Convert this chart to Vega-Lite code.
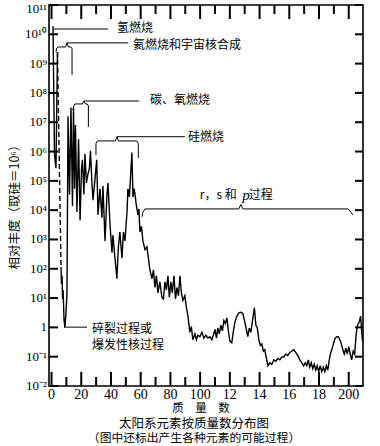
{
  "$schema": "https://vega.github.io/schema/vega-lite/v6.json",
  "width": 314,
  "height": 381,
  "autosize": {"type": "none"},
  "padding": {"left": 49, "top": 5, "right": 17, "bottom": 60},
  "background": "white",
  "config": {
    "view": {"stroke": "black", "strokeWidth": 1.6}
  },
  "title": {
    "text": "太阳系元素按质量数分布图",
    "subtitle": "（图中还标出产生各种元素的可能过程）",
    "orient": "bottom",
    "anchor": "middle",
    "dx": -12,
    "offset": 3,
    "font": "Noto Sans CJK SC",
    "fontSize": 12.5,
    "fontWeight": "normal",
    "color": "black",
    "subtitleFont": "Noto Sans CJK SC",
    "subtitleFontSize": 11.8,
    "subtitleColor": "black",
    "subtitlePadding": 3
  },
  "datasets": {
    "curve": [
      {"s":"s1","A":1.0,"v":1.9e10},{"s":"s1","A":2.0,"v":8.3e5},{"s":"s1","A":3.0,"v":2.7e5},{"s":"s1","A":4.0,"v":2.5e9},
      {"s":"s2","A":4.0,"v":2.5e9},{"s":"s2","A":6.4,"v":115},
      {"s":"s3","A":6.4,"v":115},{"s":"s3","A":6.7,"v":30},{"s":"s3","A":7.1,"v":58},{"s":"s3","A":7.4,"v":9.3},{"s":"s3","A":7.8,"v":19},
      {"s":"s3","A":8.4,"v":1.9},{"s":"s3","A":9.0,"v":0.95},{"s":"s3","A":9.7,"v":3.0},{"s":"s3","A":10.4,"v":15},{"s":"s3","A":11.1,"v":1.6e7},
      {"s":"s3","A":12.1,"v":3.4e4},{"s":"s3","A":13.1,"v":3.2e7},{"s":"s3","A":14.1,"v":1.4e4},{"s":"s3","A":14.8,"v":3.2e7},{"s":"s3","A":15.5,"v":5.4e4},
      {"s":"s3","A":16.1,"v":8.1e6},{"s":"s3","A":17.1,"v":8.7e3},{"s":"s3","A":18.2,"v":2.6e6},{"s":"s3","A":19.2,"v":4.4e3},{"s":"s3","A":20.2,"v":2.7e5},
      {"s":"s3","A":20.8,"v":5.2e5},{"s":"s3","A":21.8,"v":3.4e4},{"s":"s3","A":22.5,"v":8.3e5},{"s":"s3","A":23.5,"v":8.5e4},{"s":"s3","A":24.5,"v":1.7e5},
      {"s":"s3","A":25.5,"v":2.7e5},{"s":"s3","A":26.2,"v":1.05e6},{"s":"s3","A":27.2,"v":8.5e4},{"s":"s3","A":27.9,"v":2.2e4},{"s":"s3","A":29.2,"v":1.07e5},
      {"s":"s3","A":30.4,"v":5.2e5},{"s":"s3","A":31.3,"v":6.9e3},{"s":"s3","A":32.6,"v":5.4e4},{"s":"s3","A":33.9,"v":5.5e3},{"s":"s3","A":34.6,"v":6.8e4},
      {"s":"s3","A":36.0,"v":890},{"s":"s3","A":37.3,"v":3.4e4},{"s":"s3","A":38.0,"v":8.5e4},{"s":"s3","A":39.3,"v":3.5e3},{"s":"s3","A":40.7,"v":355},
      {"s":"s3","A":41.3,"v":1400},{"s":"s3","A":42.7,"v":230},{"s":"s3","A":44.0,"v":46},{"s":"s3","A":45.0,"v":560},{"s":"s3","A":46.0,"v":1800},
      {"s":"s3","A":47.4,"v":230},{"s":"s3","A":48.4,"v":1800},{"s":"s3","A":49.4,"v":890},{"s":"s3","A":50.8,"v":8.7e3},{"s":"s3","A":51.4,"v":5.4e4},
      {"s":"s3","A":52.4,"v":2.8e4},{"s":"s3","A":54.1,"v":9.3e5},{"s":"s3","A":54.8,"v":2.8e4},{"s":"s3","A":55.5,"v":5.4e4},{"s":"s3","A":56.1,"v":3.8e4},
      {"s":"s3","A":57.1,"v":1.4e4},{"s":"s3","A":58.2,"v":6.9e3},{"s":"s3","A":58.8,"v":1.1e4},{"s":"s3","A":59.5,"v":1800},{"s":"s3","A":60.5,"v":2800},
      {"s":"s3","A":61.5,"v":890},{"s":"s3","A":62.9,"v":450},{"s":"s3","A":64.2,"v":560},{"s":"s3","A":65.2,"v":230},{"s":"s3","A":66.2,"v":91},
      {"s":"s3","A":67.6,"v":46},{"s":"s3","A":68.6,"v":91},{"s":"s3","A":69.6,"v":23},{"s":"s3","A":70.6,"v":58},{"s":"s3","A":71.6,"v":15},
      {"s":"s3","A":72.9,"v":36},{"s":"s3","A":74.3,"v":10.5},{"s":"s3","A":75.3,"v":9.3},{"s":"s3","A":76.3,"v":36},{"s":"s3","A":77.3,"v":19},
      {"s":"s3","A":78.3,"v":58},{"s":"s3","A":79.3,"v":10.5},{"s":"s3","A":80.3,"v":36},{"s":"s3","A":81.3,"v":15},{"s":"s3","A":82.4,"v":58},
      {"s":"s3","A":83.4,"v":9.3},{"s":"s3","A":84.4,"v":23},{"s":"s3","A":85.4,"v":12},{"s":"s3","A":86.4,"v":58},{"s":"s3","A":87.4,"v":15},
      {"s":"s3","A":88.4,"v":8.3},{"s":"s3","A":89.7,"v":12},{"s":"s3","A":90.8,"v":4.7},{"s":"s3","A":91.8,"v":2.4},{"s":"s3","A":93.1,"v":0.68},
      {"s":"s3","A":94.1,"v":1.07},{"s":"s3","A":95.1,"v":0.38},{"s":"s3","A":96.5,"v":0.6},{"s":"s3","A":97.5,"v":0.38},{"s":"s3","A":98.5,"v":0.54},
      {"s":"s3","A":99.8,"v":0.48},{"s":"s3","A":101.2,"v":0.68},{"s":"s3","A":102.5,"v":0.43},{"s":"s3","A":103.9,"v":0.54},{"s":"s3","A":105.2,"v":0.43},
      {"s":"s3","A":106.6,"v":0.48},{"s":"s3","A":107.9,"v":0.38},{"s":"s3","A":108.9,"v":0.54},{"s":"s3","A":110.0,"v":0.85},{"s":"s3","A":111.0,"v":0.43},
      {"s":"s3","A":111.9,"v":0.95},{"s":"s3","A":112.9,"v":0.6},{"s":"s3","A":114.0,"v":1.2},{"s":"s3","A":115.0,"v":0.76},{"s":"s3","A":116.0,"v":1.7},
      {"s":"s3","A":117.0,"v":1.35},{"s":"s3","A":118.0,"v":2.1},{"s":"s3","A":119.0,"v":0.76},{"s":"s3","A":120.0,"v":0.34},{"s":"s3","A":121.3,"v":0.30},
      {"s":"s3","A":122.4,"v":0.76},{"s":"s3","A":123.4,"v":1.5},{"s":"s3","A":124.7,"v":2.4},{"s":"s3","A":126.0,"v":3.1},{"s":"s3","A":127.4,"v":3.3},
      {"s":"s3","A":128.7,"v":3.0},{"s":"s3","A":130.1,"v":1.5},{"s":"s3","A":131.1,"v":0.85},{"s":"s3","A":132.1,"v":0.48},{"s":"s3","A":133.1,"v":0.95},
      {"s":"s3","A":134.1,"v":0.68},{"s":"s3","A":135.1,"v":1.5},{"s":"s3","A":136.5,"v":4.7},{"s":"s3","A":137.5,"v":1.2},{"s":"s3","A":138.5,"v":0.95},
      {"s":"s3","A":139.5,"v":0.38},{"s":"s3","A":140.5,"v":0.245},{"s":"s3","A":141.5,"v":0.275},{"s":"s3","A":142.5,"v":0.155},{"s":"s3","A":143.5,"v":0.174},
      {"s":"s3","A":144.6,"v":0.087},{"s":"s3","A":145.6,"v":0.049},{"s":"s3","A":146.9,"v":0.062},{"s":"s3","A":148.2,"v":0.055},{"s":"s3","A":149.6,"v":0.078},
      {"s":"s3","A":150.9,"v":0.07},{"s":"s3","A":152.3,"v":0.087},{"s":"s3","A":153.6,"v":0.078},{"s":"s3","A":155.0,"v":0.098},{"s":"s3","A":156.3,"v":0.098},
      {"s":"s3","A":157.6,"v":0.123},{"s":"s3","A":159.0,"v":0.11},{"s":"s3","A":160.3,"v":0.138},{"s":"s3","A":161.7,"v":0.155},{"s":"s3","A":163.0,"v":0.174},
      {"s":"s3","A":164.4,"v":0.138},{"s":"s3","A":165.7,"v":0.11},{"s":"s3","A":167.1,"v":0.078},{"s":"s3","A":168.4,"v":0.062},{"s":"s3","A":169.7,"v":0.049},
      {"s":"s3","A":170.8,"v":0.062},{"s":"s3","A":171.8,"v":0.049},{"s":"s3","A":172.8,"v":0.078},{"s":"s3","A":173.8,"v":0.044},{"s":"s3","A":174.8,"v":0.062},
      {"s":"s3","A":175.8,"v":0.039},{"s":"s3","A":176.8,"v":0.055},{"s":"s3","A":177.8,"v":0.035},{"s":"s3","A":178.8,"v":0.049},{"s":"s3","A":179.8,"v":0.031},
      {"s":"s3","A":180.8,"v":0.049},{"s":"s3","A":181.8,"v":0.031},{"s":"s3","A":182.9,"v":0.044},{"s":"s3","A":183.9,"v":0.031},{"s":"s3","A":184.9,"v":0.049},
      {"s":"s3","A":185.9,"v":0.035},{"s":"s3","A":186.9,"v":0.078},{"s":"s3","A":187.9,"v":0.138},{"s":"s3","A":188.9,"v":0.195},{"s":"s3","A":189.9,"v":0.30},
      {"s":"s3","A":190.9,"v":0.43},{"s":"s3","A":191.9,"v":0.48},{"s":"s3","A":193.0,"v":0.48},{"s":"s3","A":194.0,"v":0.38},{"s":"s3","A":195.0,"v":0.275},
      {"s":"s3","A":196.0,"v":0.174},{"s":"s3","A":197.0,"v":0.123},{"s":"s3","A":198.0,"v":0.195},{"s":"s3","A":199.0,"v":0.123},{"s":"s3","A":200.0,"v":0.22},
      {"s":"s3","A":201.0,"v":0.123},{"s":"s3","A":202.0,"v":0.078},{"s":"s3","A":203.0,"v":0.155},{"s":"s3","A":204.0,"v":0.123},{"s":"s3","A":205.0,"v":0.6},
      {"s":"s3","A":206.0,"v":1.2},{"s":"s3","A":207.0,"v":1.5},{"s":"s3","A":208.0,"v":2.4},{"s":"s3","A":208.7,"v":0.76},{"s":"s3","A":209.3,"v":0.34}
    ],
    "guides": [
      {"g":"b1","i":1,"A":3.0,"v":2.5e9},{"g":"b1","i":2,"A":3.5,"v":3.4e9},{"g":"b1","i":3,"A":4.5,"v":3.7e9},{"g":"b1","i":4,"A":9.5,"v":3.7e9},{"g":"b1","i":5,"A":10.4,"v":5.1e9},
      {"g":"b1","i":6,"A":11.3,"v":3.7e9},{"g":"b1","i":7,"A":13.0,"v":3.7e9},{"g":"b1","i":8,"A":13.8,"v":3.2e9},{"g":"b1","i":9,"A":13.8,"v":4.1e8},
      {"g":"l1","i":1,"A":1.7,"v":1.52e10},{"g":"l1","i":2,"A":38.0,"v":1.52e10},
      {"g":"l2","i":1,"A":10.4,"v":5.1e9},{"g":"l2","i":2,"A":51.4,"v":5.1e9},
      {"g":"b2","i":1,"A":14.5,"v":2.6e7},{"g":"b2","i":2,"A":15.0,"v":3.6e7},{"g":"b2","i":3,"A":15.8,"v":4.2e7},{"g":"b2","i":4,"A":20.8,"v":4.2e7},{"g":"b2","i":5,"A":21.8,"v":5.3e7},
      {"g":"b2","i":6,"A":22.8,"v":4.2e7},{"g":"b2","i":7,"A":24.0,"v":4.2e7},{"g":"b2","i":8,"A":24.8,"v":3.6e7},{"g":"b2","i":9,"A":24.8,"v":6.9e6},
      {"g":"l3","i":1,"A":21.8,"v":5.3e7},{"g":"l3","i":2,"A":58.8,"v":5.3e7},
      {"g":"b3","i":1,"A":29.9,"v":7.6e5},{"g":"b3","i":2,"A":29.9,"v":1.9e6},{"g":"b3","i":3,"A":30.9,"v":2.3e6},{"g":"b3","i":4,"A":43.0,"v":2.3e6},{"g":"b3","i":5,"A":44.0,"v":3.2e6},
      {"g":"b3","i":6,"A":45.0,"v":2.3e6},{"g":"b3","i":7,"A":57.4,"v":2.3e6},{"g":"b3","i":8,"A":58.4,"v":1.9e6},{"g":"b3","i":9,"A":58.4,"v":6.0e5},
      {"g":"l4","i":1,"A":44.0,"v":3.2e6},{"g":"l4","i":2,"A":89.7,"v":3.2e6},
      {"g":"b4","i":1,"A":60.8,"v":5.9e3},{"g":"b4","i":2,"A":61.5,"v":8.5e3},{"g":"b4","i":3,"A":62.9,"v":1.1e4},{"g":"b4","i":4,"A":126.0,"v":1.1e4},{"g":"b4","i":5,"A":127.4,"v":1.56e4},
      {"g":"b4","i":6,"A":128.8,"v":1.1e4},{"g":"b4","i":7,"A":199.5,"v":1.1e4},{"g":"b4","i":8,"A":201.5,"v":8.5e3},{"g":"b4","i":9,"A":202.7,"v":6.9e3},
      {"g":"l5","i":1,"A":9.7,"v":1.02},{"g":"l5","i":2,"A":23.9,"v":1.02}
    ],
    "notes": [
      {"t":"氢燃烧","A":44.0,"v":1.66e10},
      {"t":"氦燃烧和宇宙核合成","A":54.8,"v":4.4e9},
      {"t":"碳、氧燃烧","A":66.2,"v":5.8e7},
      {"t":"硅燃烧","A":91.9,"v":3.2e6},
      {"t":"r，s 和","A":99.8,"v":3.3e4},
      {"t":"过程","A":132.8,"v":3.3e4},
      {"t":"碎裂过程或","A":27.2,"v":0.916},
      {"t":"爆发性核过程","A":27.2,"v":0.26}
    ],
    "italic": [
      {"t":"p","A":128.4,"v":3.3e4}
    ],
    "xt": [
      {"A":0},{"A":10},{"A":20},{"A":30},{"A":40},{"A":50},{"A":60},{"A":70},{"A":80},{"A":90},{"A":100},
      {"A":110},{"A":120},{"A":130},{"A":140},{"A":150},{"A":160},{"A":170},{"A":180},{"A":190},{"A":200}
    ],
    "yt": [
      {"v":0.01},{"v":0.1},{"v":1},{"v":10},{"v":100},{"v":1000},{"v":10000},{"v":100000},{"v":1000000},
      {"v":10000000},{"v":100000000},{"v":1000000000},{"v":10000000000},{"v":100000000000}
    ],
    "xl": [
      {"A":0,"lab":"0"},{"A":20,"lab":"20"},{"A":40,"lab":"40"},{"A":60,"lab":"60"},{"A":80,"lab":"80"},{"A":100,"lab":"100"},
      {"A":120,"lab":"12"},{"A":140,"lab":"14"},{"A":160,"lab":"16"},{"A":180,"lab":"18"},{"A":200,"lab":"200"}
    ],
    "yl": [
      {"v":0.01,"lab":"10⁻²"},{"v":0.1,"lab":"10⁻¹"},{"v":1,"lab":"1"},{"v":10,"lab":"10¹"},{"v":100,"lab":"10²"},{"v":1000,"lab":"10³"},
      {"v":10000,"lab":"10⁴"},{"v":100000,"lab":"10⁵"},{"v":1000000,"lab":"10⁶"},{"v":10000000,"lab":"10⁷"},{"v":100000000,"lab":"10⁸"},
      {"v":1000000000,"lab":"10⁹"},{"v":10000000000,"lab":"10¹⁰"},{"v":100000000000,"lab":"10¹¹"}
    ]
  },
  "layer": [
    {
      "data": {"name": "curve"},
      "mark": {"type": "line", "color": "black", "strokeWidth": 1.4, "clip": true},
      "encoding": {
        "x": {"field": "A", "type": "quantitative", "scale": {"domain": [-1.7, 209.6], "nice": false, "zero": false}, "axis": null},
        "y": {"field": "v", "type": "quantitative", "scale": {"type": "log", "domain": [0.01, 1e11], "nice": false}, "axis": null},
        "strokeDash": {
          "field": "s", "type": "nominal",
          "scale": {"domain": ["s1", "s2", "s3"], "range": [[1, 0], [5, 3], [1, 0]]},
          "legend": null
        }
      }
    },
    {
      "data": {"name": "guides"},
      "mark": {"type": "line", "color": "black", "strokeWidth": 1},
      "encoding": {
        "x": {"field": "A", "type": "quantitative", "axis": null},
        "y": {"field": "v", "type": "quantitative", "axis": null},
        "detail": {"field": "g"},
        "order": {"field": "i"}
      }
    },
    {
      "data": {"name": "xt"},
      "transform": [{"filter": "datum.A % 20 === 0"}],
      "mark": {"type": "rule", "color": "black", "strokeWidth": 2},
      "encoding": {
        "x": {"field": "A", "type": "quantitative", "axis": null},
        "y": {"datum": 0.01, "type": "quantitative", "axis": null},
        "y2": {"datum": 0.0303}
      }
    },
    {
      "data": {"name": "xt"},
      "transform": [{"filter": "datum.A % 20 !== 0"}],
      "mark": {"type": "rule", "color": "black", "strokeWidth": 2},
      "encoding": {
        "x": {"field": "A", "type": "quantitative", "axis": null},
        "y": {"datum": 0.01, "type": "quantitative", "axis": null},
        "y2": {"datum": 0.0203}
      }
    },
    {
      "data": {"name": "xt"},
      "transform": [{"filter": "datum.A % 20 === 0"}],
      "mark": {"type": "rule", "color": "black", "strokeWidth": 2},
      "encoding": {
        "x": {"field": "A", "type": "quantitative", "axis": null},
        "y": {"datum": 1e11, "type": "quantitative", "axis": null},
        "y2": {"datum": 3.33e10}
      }
    },
    {
      "data": {"name": "xt"},
      "transform": [{"filter": "datum.A % 20 !== 0"}],
      "mark": {"type": "rule", "color": "black", "strokeWidth": 2},
      "encoding": {
        "x": {"field": "A", "type": "quantitative", "axis": null},
        "y": {"datum": 1e11, "type": "quantitative", "axis": null},
        "y2": {"datum": 4.93e10}
      }
    },
    {
      "data": {"name": "yt"},
      "mark": {"type": "rule", "color": "black", "strokeWidth": 2},
      "encoding": {
        "y": {"field": "v", "type": "quantitative", "axis": null},
        "x": {"datum": -1.7, "type": "quantitative", "axis": null},
        "x2": {"datum": 4.35}
      }
    },
    {
      "data": {"name": "yt"},
      "mark": {"type": "rule", "color": "black", "strokeWidth": 2},
      "encoding": {
        "y": {"field": "v", "type": "quantitative", "axis": null},
        "x": {"datum": 209.6, "type": "quantitative", "axis": null},
        "x2": {"datum": 204.2}
      }
    },
    {
      "data": {"name": "xl"},
      "mark": {"type": "text", "align": "center", "baseline": "top", "dy": 2, "font": "Liberation Serif", "fontSize": 14, "color": "black"},
      "encoding": {
        "x": {"field": "A", "type": "quantitative", "axis": null},
        "y": {"datum": 0.01, "type": "quantitative", "axis": null},
        "text": {"field": "lab"}
      }
    },
    {
      "data": {"name": "yl"},
      "transform": [{"filter": "datum.v < 5e10"}],
      "mark": {"type": "text", "align": "right", "baseline": "middle", "dx": -2, "font": "Liberation Serif", "fontSize": 13, "color": "black"},
      "encoding": {
        "x": {"datum": -1.7, "type": "quantitative", "axis": null},
        "y": {"field": "v", "type": "quantitative", "axis": null},
        "text": {"field": "lab"}
      }
    },
    {
      "data": {"name": "yl"},
      "transform": [{"filter": "datum.v > 5e10"}],
      "mark": {"type": "text", "align": "right", "baseline": "middle", "dx": -2, "dy": 4, "font": "Liberation Serif", "fontSize": 13, "color": "black"},
      "encoding": {
        "x": {"datum": -1.7, "type": "quantitative", "axis": null},
        "y": {"field": "v", "type": "quantitative", "axis": null},
        "text": {"field": "lab"}
      }
    },
    {
      "data": {"values": [{"t": "质　量　数"}]},
      "mark": {"type": "text", "align": "center", "baseline": "middle", "font": "Noto Sans CJK SC", "fontSize": 11.5, "color": "black"},
      "encoding": {
        "x": {"datum": 100.6, "type": "quantitative", "axis": null},
        "y": {"datum": 0.00164, "type": "quantitative", "axis": null},
        "text": {"field": "t"}
      }
    },
    {
      "data": {"values": [{"t": "相对丰度（取硅＝10⁶）"}]},
      "mark": {"type": "text", "align": "center", "baseline": "middle", "angle": 270, "font": "Noto Sans CJK SC", "fontSize": 12.5, "color": "black"},
      "encoding": {
        "x": {"datum": -24.5, "type": "quantitative", "axis": null},
        "y": {"datum": 16000, "type": "quantitative", "axis": null},
        "text": {"field": "t"}
      }
    },
    {
      "data": {"name": "notes"},
      "mark": {"type": "text", "align": "left", "baseline": "middle", "font": "Noto Sans CJK SC", "fontSize": 12, "color": "black"},
      "encoding": {
        "x": {"field": "A", "type": "quantitative", "axis": null},
        "y": {"field": "v", "type": "quantitative", "axis": null},
        "text": {"field": "t"}
      }
    },
    {
      "data": {"name": "italic"},
      "mark": {"type": "text", "align": "left", "baseline": "middle", "font": "Liberation Serif", "fontStyle": "italic", "fontSize": 15, "color": "black"},
      "encoding": {
        "x": {"field": "A", "type": "quantitative", "axis": null},
        "y": {"field": "v", "type": "quantitative", "axis": null},
        "text": {"field": "t"}
      }
    }
  ]
}
